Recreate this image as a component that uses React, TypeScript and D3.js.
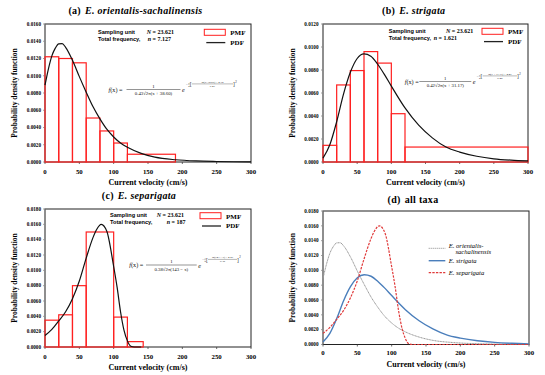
import React from "react";
import * as d3 from "d3";

// ---------- data ----------
const xTicks = [0, 50, 100, 150, 200, 250, 300];
const yTicksA = [0, 0.002, 0.004, 0.006, 0.008, 0.01, 0.012, 0.014, 0.016];
const yTicksB = [0, 0.002, 0.004, 0.006, 0.008, 0.01, 0.012];
const yTicksC = [0, 0.002, 0.004, 0.006, 0.008, 0.01, 0.012, 0.014, 0.016, 0.018];
const yTicksD = [0, 0.002, 0.004, 0.006, 0.008, 0.01, 0.012, 0.014, 0.016, 0.018];

// PMF bins (a) E. orientalis-sachalinensis
const binLoA = [0, 20, 40, 60, 80, 100, 120];
const binHiA = [20, 40, 60, 80, 100, 120, 190];
const pmfA = [0.0122, 0.012, 0.0115, 0.0051, 0.0036, 0.0022, 0.0009];

// PMF bins (b) E. strigata
const binLoB = [0, 20, 40, 60, 80, 100, 120];
const binHiB = [20, 40, 60, 80, 100, 120, 300];
const pmfB = [0.00145, 0.0067, 0.00795, 0.0096, 0.0086, 0.0042, 0.0013];

// PMF bins (c) E. separigata
const binLoC = [0, 20, 40, 60, 100, 120];
const binHiC = [20, 40, 60, 100, 120, 143];
const pmfC = [0.0035, 0.0042, 0.008, 0.015, 0.0039, 0.0007];

// PDF curves
const pdfXA = [0, 5, 10, 15, 20, 25, 30, 40, 50, 60, 70, 80, 90, 100, 110, 120, 140, 160, 190, 220, 250, 275, 300];
const pdfA = [0.0089, 0.0108, 0.0123, 0.0132, 0.0137, 0.01372, 0.0133, 0.0118, 0.0099, 0.0081, 0.0064, 0.005, 0.0038, 0.0029, 0.0022, 0.0017, 0.001, 0.00056, 0.00026, 0.00012, 0.00006, 0.00003, 0.00002];

const pdfXB = [0, 10, 20, 30, 40, 50, 60, 70, 80, 90, 100, 120, 140, 160, 180, 200, 225, 250, 275, 300];
const pdfB = [0.00034, 0.0015, 0.0035, 0.0059, 0.0078, 0.009, 0.0094, 0.0092, 0.0085, 0.0076, 0.0066, 0.0047, 0.0032, 0.0021, 0.0013, 0.00086, 0.0005, 0.00028, 0.00016, 0.00009];

const pdfXC = [0, 10, 20, 30, 40, 50, 60, 70, 75, 82, 90, 100, 105, 110, 115, 120, 125, 130, 140];
const pdfC = [0.0015, 0.0023, 0.0034, 0.0046, 0.0063, 0.0086, 0.0116, 0.0143, 0.0153, 0.016, 0.0151, 0.0105, 0.0078, 0.0046, 0.0022, 0.0008, 0.0001, 0, 0];

const titleLetters = ["(a)", "(b)", "(c)", "(d)"];
const titleSpecies = ["E.  orientalis-sachalinensis", "E.  strigata", "E.  separigata", "all  taxa"];
const legendSpecies = ["E. strigata", "E. separigata"];

// ---------- helpers ----------
const SERIF = "'Liberation Serif', 'Times New Roman', serif";
const SANS = "'Liberation Sans', Arial, sans-serif";
const fmt = d3.format(".4f");

type Box = { l: number; r: number; t: number; b: number };

function Axes({ box, ymax, yTicks, labelX, tickY, xTitleY, yTitleX }: any) {
  const x = d3.scaleLinear().domain([0, 300]).range([box.l, box.r]);
  const y = d3.scaleLinear().domain([0, ymax]).range([box.b, box.t]);
  const cy = (box.t + box.b) / 2;
  return (
    <g>
      <rect x={box.l} y={box.t} width={box.r - box.l} height={box.b - box.t} fill="none" stroke="#222" strokeWidth={1} />
      <line x1={box.l} x2={box.l} y1={box.t} y2={box.b} stroke="#8c8c8c" strokeWidth={1} />
      {yTicks.map((v: number) => (
        <g key={"y" + v}>
          <line x1={box.l - 2} x2={box.l} y1={y(v)} y2={y(v)} stroke="#8c8c8c" strokeWidth={0.8} />
          <text x={labelX} y={y(v) + 1.8} textAnchor="end" fontSize={5.2} fontWeight="bold" fontFamily={SERIF}>
            {fmt(v)}
          </text>
        </g>
      ))}
      {xTicks.map((v) => (
        <g key={"x" + v}>
          <line x1={x(v)} x2={x(v)} y1={box.b} y2={box.b + 2} stroke="#444" strokeWidth={0.8} />
          <text x={x(v)} y={tickY} textAnchor="middle" fontSize={6.8} fontWeight="bold" fontFamily={SERIF}>
            {v}
          </text>
        </g>
      ))}
      <text x={(box.l + box.r) / 2} y={xTitleY} textAnchor="middle" fontSize={8} fontWeight="bold" fontFamily={SERIF}>
        Current velocity (cm/s)
      </text>
      <text
        transform={`translate(${yTitleX},${cy}) rotate(-90)`}
        textAnchor="middle"
        fontSize={7.5}
        fontWeight="bold"
        fontFamily={SERIF}
      >
        Probability density function
      </text>
    </g>
  );
}

function Title({ cx, y, i }: any) {
  return (
    <text x={cx} y={y} textAnchor="middle" fontSize={10} fontWeight="bold" fontFamily={SERIF} letterSpacing={0.3}>
      <tspan>{titleLetters[i]}</tspan>
      <tspan dx={4} fontStyle={i < 3 ? "italic" : "normal"}>
        {titleSpecies[i]}
      </tspan>
    </text>
  );
}

function Bars({ box, ymax, lo, hi, vals }: any) {
  const x = d3.scaleLinear().domain([0, 300]).range([box.l, box.r]);
  const y = d3.scaleLinear().domain([0, ymax]).range([box.b, box.t]);
  return (
    <g>
      {vals.map((v: number, i: number) => (
        <rect
          key={i}
          x={x(lo[i])}
          y={y(v)}
          width={x(hi[i]) - x(lo[i])}
          height={y(0) - y(v)}
          fill="none"
          stroke="#ff2020"
          strokeWidth={1.2}
        />
      ))}
    </g>
  );
}

function Curve({ box, ymax, xs, ys, stroke, width, dash }: any) {
  const x = d3.scaleLinear().domain([0, 300]).range([box.l, box.r]);
  const y = d3.scaleLinear().domain([0, ymax]).range([box.b, box.t]);
  const pts: [number, number][] = xs.map((v: number, i: number) => [v, ys[i]]);
  const gen = d3
    .line<[number, number]>()
    .x((d) => x(d[0]))
    .y((d) => y(d[1]))
    .curve(d3.curveMonotoneX);
  return <path d={gen(pts) || ""} fill="none" stroke={stroke} strokeWidth={width} strokeDasharray={dash} />;
}

function Legend({ x, y }: any) {
  return (
    <g fontFamily={SERIF} fontWeight="bold" fontSize={7}>
      <rect x={x} y={y} width={21} height={6} fill="#fff" stroke="#ff2020" strokeWidth={1} />
      <text x={x + 26} y={y + 6}>PMF</text>
      <line x1={x + 2} x2={x + 21} y1={y + 13.3} y2={y + 13.3} stroke="#222" strokeWidth={1.3} />
      <text x={x + 26} y={y + 15.7}>PDF</text>
    </g>
  );
}

function Info({ x, y, nx, n, Nx }: any) {
  return (
    <g fontSize={6}>
      <text x={x} y={y} fontFamily={SANS} fontWeight="bold" fontSize={5.6}>Sampling unit</text>
      <text x={Nx} y={y} fontFamily={SERIF} fontWeight="bold">
        <tspan fontStyle="italic">N</tspan>
        <tspan> = 23.621</tspan>
      </text>
      <text x={x} y={y + 7} fontFamily={SANS} fontWeight="bold" fontSize={5.6}>Total frequency,</text>
      <text x={nx} y={y + 7} fontFamily={SERIF} fontWeight="bold">
        <tspan fontStyle="italic">n</tspan>
        <tspan>{"  = " + n}</tspan>
      </text>
    </g>
  );
}

function Formula({ fx, base, b0, b1, denom, eNum, eDen, eEnd }: any) {
  const ex = b1 + 1.5;
  const sx = ex + 4;
  return (
    <g fontFamily={SERIF} fill="#111">
      <text x={fx} y={base} fontSize={6.2}>
        <tspan fontStyle="italic">f</tspan>(x) =
      </text>
      <line x1={b0} x2={b1} y1={base - 2} y2={base - 2} stroke="#111" strokeWidth={0.45} />
      <text x={(b0 + b1) / 2} y={base - 3.6} fontSize={4.8} textAnchor="middle">1</text>
      <text x={(b0 + b1) / 2} y={base + 3.6} fontSize={4.8} textAnchor="middle">{denom}</text>
      <text x={ex} y={base + 0.5} fontSize={6.2} fontStyle="italic">e</text>
      <text x={sx} y={base - 6} fontSize={3.4}>−</text>
      <text x={sx + 2.2} y={base - 8} fontSize={2.6}>1</text>
      <line x1={sx + 2} x2={sx + 3.6} y1={base - 7.3} y2={base - 7.3} stroke="#111" strokeWidth={0.25} />
      <text x={sx + 2.2} y={base - 5} fontSize={2.6}>2</text>
      <text x={sx + 3.8} y={base - 5.4} fontSize={5.4}>[</text>
      <text x={(sx + 5.8 + eEnd - 3) / 2} y={base - 8.6} fontSize={2.9} textAnchor="middle">{eNum}</text>
      <line x1={sx + 5.8} x2={eEnd - 3} y1={base - 7.6} y2={base - 7.6} stroke="#111" strokeWidth={0.3} />
      <text x={(sx + 5.8 + eEnd - 3) / 2} y={base - 4.6} fontSize={2.9} textAnchor="middle">{eDen}</text>
      <text x={eEnd - 3} y={base - 5.4} fontSize={5.4}>]</text>
      <text x={eEnd - 0.8} y={base - 9} fontSize={3}>2</text>
    </g>
  );
}

export default function App() {
  const A: Box = { l: 45, r: 251, t: 24, b: 162 };
  const B: Box = { l: 323, r: 528, t: 24, b: 162 };
  const C: Box = { l: 45, r: 251, t: 209, b: 347 };
  const D: Box = { l: 323, r: 529, t: 211, b: 344.5 };
  return (
    <svg width={545} height={375} viewBox="0 0 545 375" style={{ position: "absolute", left: 0, top: 0, background: "#fff" }}>
      <rect width={545} height={375} fill="#fff" />
      {/* (a) */}
      <Title cx={135.5} y={13.8} i={0} />
      <Axes box={A} ymax={0.016} yTicks={yTicksA} labelX={41} tickY={174} xTitleY={184.5} yTitleX={16.5} />
      <Bars box={A} ymax={0.016} lo={binLoA} hi={binHiA} vals={pmfA} />
      <Curve box={A} ymax={0.016} xs={pdfXA} ys={pdfA} stroke="#111" width={1.2} />
      <Legend x={204.3} y={29.3} />
      <Info x={98} y={33.8} Nx={146.7} nx={147.7} n="7.127" />
      <Formula fx={108.5} base={91.5} b0={126.5} b1={180.5} denom="0.43√2π(x + 38.60)" eNum="ln(x+38.60) − 4.12" eDen="0.47" eEnd={236} />

      {/* (b) */}
      <Title cx={413.7} y={13.8} i={1} />
      <Axes box={B} ymax={0.012} yTicks={yTicksB} labelX={318.5} tickY={174} xTitleY={184.5} yTitleX={295} />
      <Bars box={B} ymax={0.012} lo={binLoB} hi={binHiB} vals={pmfB} />
      <Curve box={B} ymax={0.012} xs={pdfXB} ys={pdfB} stroke="#111" width={1.2} />
      <Legend x={482} y={28.3} />
      <Info x={388.7} y={33} Nx={446} nx={433.7} n="1.621" />
      <Formula fx={404.7} base={83.5} b0={419.3} b1={471.3} denom="0.42√2π(x + 31.17)" eNum="ln(x + 31.17) − 4.49" eDen="0.42" eEnd={520} />

      {/* (c) */}
      <Title cx={139} y={198.8} i={2} />
      <Axes box={C} ymax={0.018} yTicks={yTicksC} labelX={41} tickY={359} xTitleY={369.5} yTitleX={16.5} />
      <Bars box={C} ymax={0.018} lo={binLoC} hi={binHiC} vals={pmfC} />
      <Curve box={C} ymax={0.018} xs={pdfXC} ys={pdfC} stroke="#111" width={1.2} />
      <Legend x={200} y={212.7} />
      <Info x={110} y={217} Nx={156.7} nx={166.7} n="187" />
      <Formula fx={129.3} base={267} b0={146} b1={196.7} denom="0.38√2π(143 − x)" eNum="ln(143 − x) − 4.27" eDen="0.38" eEnd={240} />

      {/* (d) */}
      <Title cx={413} y={203.3} i={3} />
      <Axes box={D} ymax={0.018} yTicks={yTicksD} labelX={318.5} tickY={355} xTitleY={366.5} yTitleX={295} />
      <Curve box={D} ymax={0.018} xs={pdfXA} ys={pdfA} stroke="#9a9a9a" width={1} dash="1.2,0.4" />
      <Curve box={D} ymax={0.018} xs={pdfXB} ys={pdfB} stroke="#4a7ebb" width={1.4} />
      <Curve box={D} ymax={0.018} xs={[...pdfXC, 300]} ys={[...pdfC, 0]} stroke="#e03a3a" width={1.2} dash="2.4,1.2" />
      <g fontFamily={SERIF} fontStyle="italic" fontSize={6.6}>
        <line x1={428.7} x2={445.3} y1={248.3} y2={248.3} stroke="#888" strokeWidth={1} strokeDasharray="1,1" />
        <text x={448.7} y={247.5}>E. orientalis-</text>
        <text x={455.5} y={254}>sachalinensis</text>
        <line x1={428.7} x2={445.3} y1={260.7} y2={260.7} stroke="#4a7ebb" strokeWidth={1.4} />
        <text x={448.7} y={262.8}>{legendSpecies[0]}</text>
        <line x1={428.7} x2={445.3} y1={272.7} y2={272.7} stroke="#e03a3a" strokeWidth={1.2} strokeDasharray="2.4,1.2" />
        <text x={448.7} y={274.8}>{legendSpecies[1]}</text>
      </g>
    </svg>
  );
}
